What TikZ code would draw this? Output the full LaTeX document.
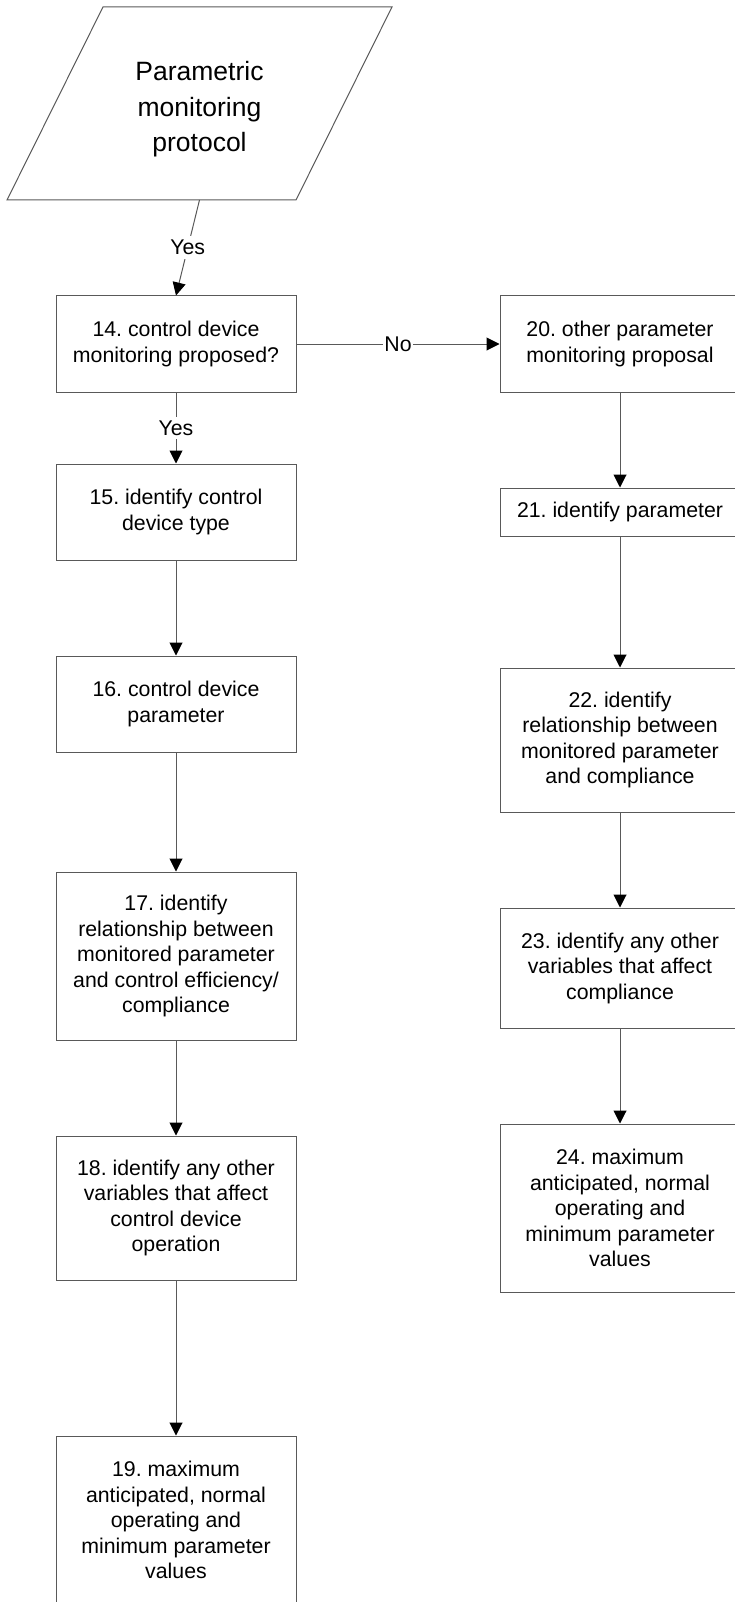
\documentclass[tikz,border=0pt]{standalone}
\usepackage{fontspec}
\setmainfont{Liberation Sans}
\usetikzlibrary{arrows.meta}
\frenchspacing
\begin{document}
\begin{tikzpicture}[x=1pt,y=-1pt,
	every node/.style={font=\fontsize{21.3}{25.5}\selectfont},
	stepbox/.style={draw=black!65,line width=1pt,minimum width=240pt,align=center,inner sep=0pt},
	flow/.style={draw=black!65,line width=1pt,-{Triangle[length=13pt,width=13pt,color=black]}},
	lbl/.style={fill=white,inner xsep=1pt,inner ysep=4pt}]
	\useasboundingbox (0,0) rectangle (734,1602);
	% protocol
	\draw[black!65,line width=1pt] (103,7) -- (392,7) -- (296,200) -- (7,200) -- cycle;
	\coordinate (protobase) at (199.5,200);
	\node[align=center,font=\fontsize{26.5}{35.5}\selectfont] (proto) at (199.5,109.5) {Parametric\\monitoring\\protocol};
	% control device branch
	\node[stepbox,minimum height=96pt] (box14) at (176,344) {14. control device\\monitoring proposed?};
	\node[stepbox,minimum height=96pt] (box15) at (176,512) {15. identify control\\device type};
	\node[stepbox,minimum height=96pt] (box16) at (176,704) {16. control device\\parameter};
	\node[stepbox,minimum height=168pt] (box17) at (176,956) {17. identify\\relationship between\\monitored parameter\\and control efficiency/\\compliance};
	\node[stepbox,minimum height=144pt] (box18) at (176,1208) {18. identify any other\\variables that affect\\control device\\operation};
	\node[stepbox,minimum height=168pt] (box19) at (176,1520) {19. maximum\\anticipated, normal\\operating and\\minimum parameter\\values};
	% other parameter branch
	\node[stepbox,minimum height=96pt] (box20) at (620,344) {20. other parameter\\monitoring proposal};
	\node[stepbox,minimum height=48pt] (box21) at (620,512) {21. identify parameter};
	\node[stepbox,minimum height=144pt] (box22) at (620,740) {22. identify\\relationship between\\monitored parameter\\and compliance};
	\node[stepbox,minimum height=120pt] (box23) at (620,968) {23. identify any other\\variables that affect\\compliance};
	\node[stepbox,minimum height=168pt] (box24) at (620,1208) {24. maximum\\anticipated, normal\\operating and\\minimum parameter\\values};
	% connectors
	\draw[flow] (protobase) -- node[lbl] {Yes} (box14.north);
	\draw[flow] (box14) -- node[lbl] {Yes} (box15);
	\draw[flow] (box14) -- node[lbl] {No} (box20);
	\draw[flow] (box15) -- (box16);
	\draw[flow] (box16) -- (box17);
	\draw[flow] (box17) -- (box18);
	\draw[flow] (box18) -- (box19);
	\draw[flow] (box20) -- (box21);
	\draw[flow] (box21) -- (box22);
	\draw[flow] (box22) -- (box23);
	\draw[flow] (box23) -- (box24);
\end{tikzpicture}
\end{document}
